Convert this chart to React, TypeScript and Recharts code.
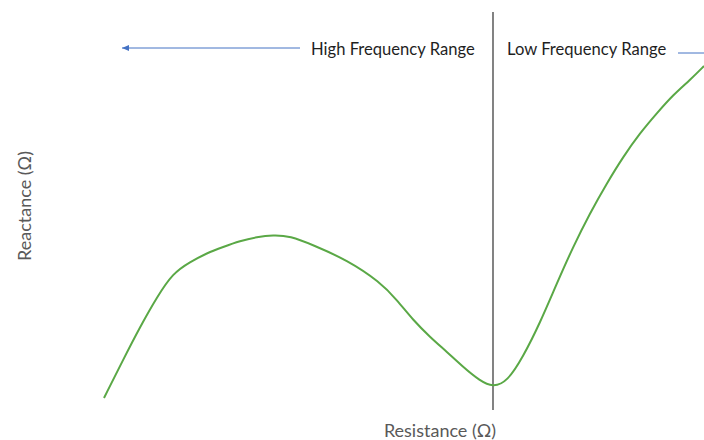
import { LineChart, Line, XAxis, YAxis, ReferenceLine } from "recharts";

// schematic Nyquist-style curve (arbitrary units)
const resistance = [
  10.4, 12.3, 14.0, 15.7, 17.3, 19.0, 20.7, 22.3, 24.0, 25.7, 27.3, 29.0, 31.3, 34.7,
  38.0, 39.7, 41.3, 43.0, 44.7, 46.3, 48.0, 49.3, 50.7, 52.3, 54.0, 55.7, 57.3, 59.0,
  60.7, 62.3, 64.0, 65.7, 67.3, 69.0, 70.4,
];
const reactance = [
  4.2, 8.0, 11.3, 14.3, 16.7, 17.8, 18.7, 19.3, 19.9, 20.3, 20.5, 20.4, 19.5, 18.0,
  15.8, 14.0, 12.0, 10.3, 8.8, 7.3, 5.9, 5.3, 5.8, 8.3, 11.7, 15.7, 19.3, 22.7,
  25.7, 28.3, 30.7, 32.7, 34.5, 36.0, 37.4,
];

const boundary = 49.3; // high / low frequency split
const rangeLabels = ["High Frequency Range", "Low Frequency Range"];
const axisLabels = { x: "Resistance (Ω)", y: "Reactance (Ω)" };

const data = resistance.map((r, i) => ({ resistance: r, reactance: reactance[i] }));

const FONT = "Lato, sans-serif";
const BLUE = "#4472c4";

function Arrow(props: any) {
  const { x1, y1, x2, y2, tip } = props;
  return (
    <g>
      <line x1={x1} y1={y1} x2={x2} y2={y2} stroke={BLUE} strokeWidth={1} />
      {tip && <polygon points={`${x2},${y2} ${x2 + 7},${y2 - 3} ${x2 + 7},${y2 + 3}`} fill={BLUE} />}
    </g>
  );
}

export default function App() {
  return (
    <div style={{ position: "absolute", left: 0, top: 0, width: 704, height: 440, background: "#fff" }}>
      <LineChart width={704} height={440} data={data} margin={{ top: 0, right: 0, bottom: 0, left: 0 }}>
        <XAxis type="number" dataKey="resistance" domain={[0, 70.4]} hide />
        <YAxis type="number" domain={[0, 44]} hide />
        <ReferenceLine
          segment={[{ x: boundary, y: 42.8 }, { x: boundary, y: 3.0 }]}
          stroke="#404040"
          strokeWidth={1.3}
        />
        <ReferenceLine
          segment={[{ x: 30.0, y: 39.2 }, { x: 12.2, y: 39.2 }]}
          shape={(p: any) => <Arrow {...p} tip />}
        />
        <ReferenceLine
          segment={[{ x: 67.8, y: 38.7 }, { x: 70.4, y: 38.7 }]}
          shape={(p: any) => <Arrow {...p} />}
        />
        <Line
          type="basis"
          dataKey="reactance"
          stroke="#5aa846"
          strokeWidth={2}
          dot={false}
          activeDot={false}
          isAnimationActive={false}
        />
        <text x={311} y={55} fontFamily={FONT} fontSize={16.6} fill="#1f1f1f">{rangeLabels[0]}</text>
        <text x={507} y={55} fontFamily={FONT} fontSize={16.6} fill="#1f1f1f">{rangeLabels[1]}</text>
        <text x={440} y={437} textAnchor="middle" fontFamily={FONT} fontSize={18} fill="#595959">{axisLabels.x}</text>
        <text
          x={31}
          y={206}
          textAnchor="middle"
          transform="rotate(-90 31 206)"
          fontFamily={FONT}
          fontSize={18}
          fill="#595959"
        >
          {axisLabels.y}
        </text>
      </LineChart>
    </div>
  );
}
